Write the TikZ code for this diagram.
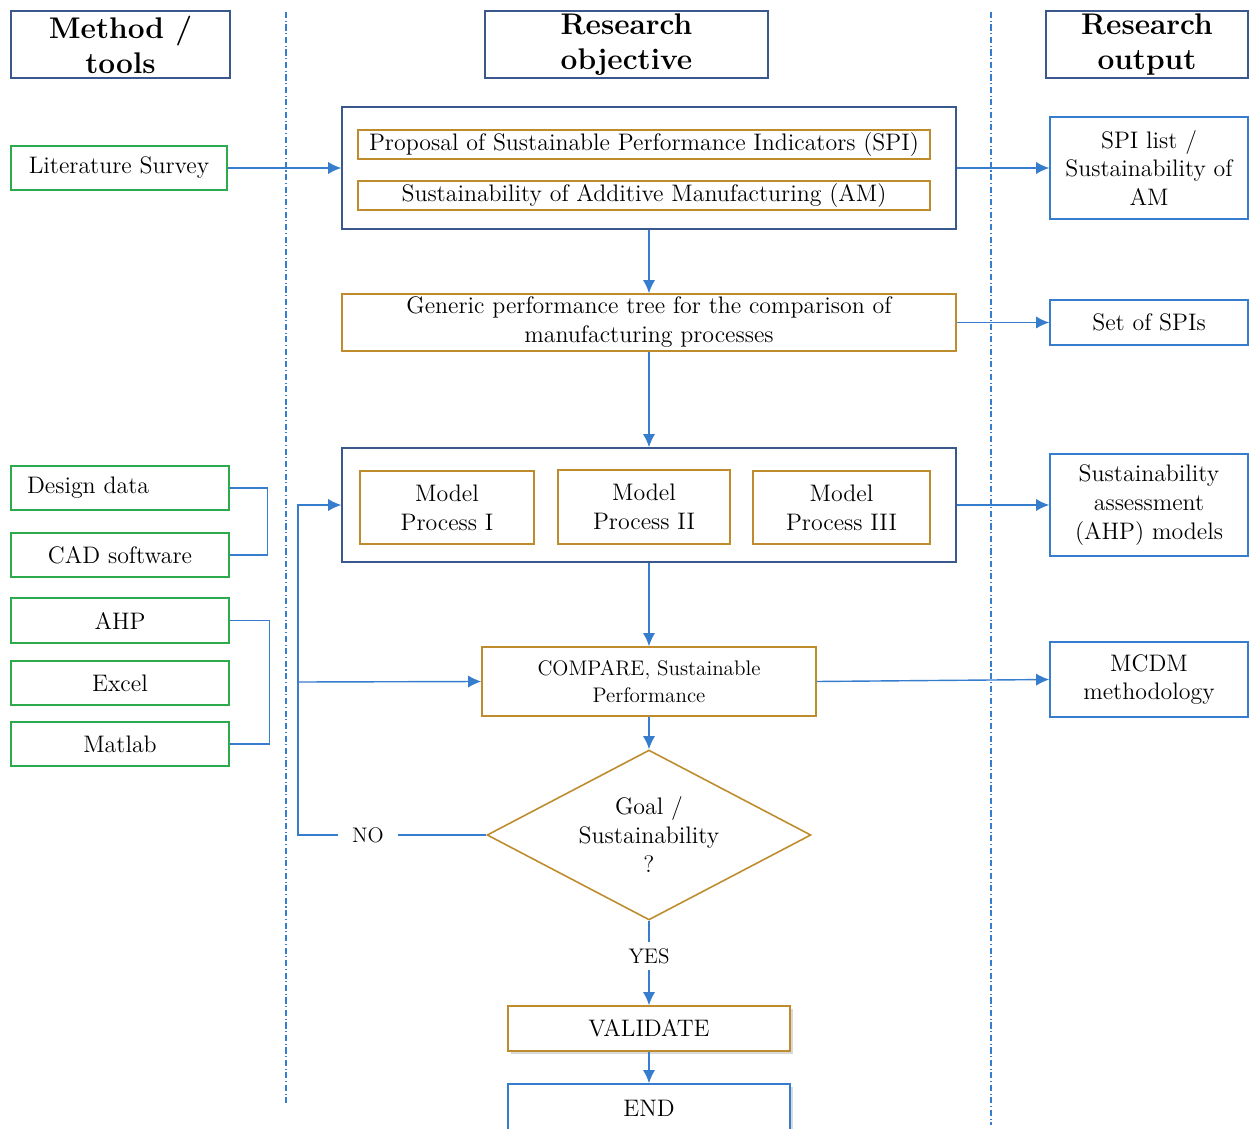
\documentclass[tikz,border=0pt]{standalone}
\usepackage{fontspec}
\usepackage{tikz}
\usetikzlibrary{arrows.meta,shapes,shadows}

\definecolor{hdrblue}{RGB}{58,88,140}
\definecolor{toolgreen}{RGB}{45,170,75}
\definecolor{taskorange}{RGB}{190,140,45}
\definecolor{outblue}{RGB}{55,125,205}

\begin{document}
\begin{tikzpicture}[x=0.02cm,y=-0.02cm,
    headbox/.style={draw=hdrblue,line width=0.9pt,inner sep=0pt,align=center,
      font=\fontsize{17}{20}\selectfont\bfseries,minimum height=1.34cm},
    toolbox/.style={draw=toolgreen,line width=0.9pt,inner sep=0pt,align=center,
      font=\fontsize{13.6}{16.5}\selectfont,minimum width=4.36cm,minimum height=0.88cm},
    framebox/.style={draw=hdrblue,line width=0.9pt,inner sep=0pt},
    taskbox/.style={draw=taskorange,line width=0.9pt,inner sep=0pt,align=center,
      font=\fontsize{13.6}{16.5}\selectfont},
    outbox/.style={draw=outblue,line width=0.9pt,inner sep=0pt,align=center,
      font=\fontsize{13.6}{16.3}\selectfont,minimum width=3.96cm},
    shadowed/.style={fill=white,drop shadow={shadow xshift=1.5pt,shadow yshift=-1.5pt,opacity=0.3}},
    flow/.style={-{Latex[length=7.5pt,width=7pt]},outblue,line width=0.8pt},
    wire/.style={outblue,line width=0.8pt},
    divline/.style={outblue,line width=0.8pt,dash pattern=on 3.5pt off 1.5pt on 0.6pt off 1.5pt},
    answer/.style={font=\fontsize{12}{14}\selectfont,inner xsep=0.28cm}]

      % page
      \useasboundingbox (0,0) rectangle (1249,1129);
      \clip (0,0) rectangle (1249,1129);

      % column dividers
      \draw[divline] (286,12) -- (286,1105);
      \draw[divline] (991,12) -- (991,1125);

      % column headings
      \node[headbox,minimum width=4.38cm] (hmeth) at (120.5,44.5) {Method /\\tools};
      \node[headbox,minimum width=5.66cm] (hobj) at (626.5,44.5) {Research\\objective};
      \node[headbox,minimum width=4.04cm] (hout) at (1147,44.5) {Research\\output};

      % methods and tools
      \node[toolbox,minimum width=4.32cm] (lit) at (119,168) {Literature Survey};
      \node[toolbox,text width=3.72cm,inner xsep=0.32cm,align=left] (design) at (120,488) {Design data};
      \node[toolbox] (cad) at (120,555) {CAD software};
      \node[toolbox,minimum height=0.9cm] (ahp) at (120,620.5) {AHP};
      \node[toolbox] (excel) at (120,683) {Excel};
      \node[toolbox] (matlab) at (120,744) {Matlab};
      \draw[wire] (design.east) -- ++(38,0) |- (cad.east);
      \draw[wire] (ahp.east) -- ++(40,0) |- (matlab.east);

      % research objective
      \node[framebox,minimum width=12.28cm,minimum height=2.44cm] (objbox) at (649,168) {};
      \node[taskbox,minimum width=11.44cm,minimum height=0.58cm] (spi) at (644,144.5) {Proposal of Sustainable Performance Indicators (SPI)};
      \node[taskbox,minimum width=11.44cm,minimum height=0.58cm] (am) at (644,195.5) {Sustainability of Additive Manufacturing (AM)};
      \node[taskbox,minimum width=12.28cm,minimum height=1.14cm] (tree) at (649,322.5) {Generic performance tree for the comparison of\\manufacturing processes};
      \node[framebox,minimum width=12.28cm,minimum height=2.28cm] (modbox) at (649,505) {};
      \node[taskbox,minimum width=3.48cm,minimum height=1.46cm] (mp1) at (447,507.5) {Model\\Process I};
      \node[taskbox,minimum width=3.44cm,minimum height=1.48cm] (mp2) at (644,507) {Model\\Process II};
      \node[taskbox,minimum width=3.54cm,minimum height=1.46cm] (mp3) at (841.5,507.5) {Model\\Process III};
      \node[taskbox,font=\fontsize{12}{15}\selectfont,minimum width=6.68cm,minimum height=1.38cm] (cmp) at (649,681.5) {COMPARE, Sustainable\\Performance};
      \node[taskbox,diamond,aspect=2,minimum width=6.48cm,minimum height=3.4cm] (goal) at (649,835) {Goal /\\Sustainability\\?};
      \node[answer] (no) at (368,835) {NO};
      \node[answer] (yes) at (649,956) {YES};
      \node[taskbox,shadowed,minimum width=5.64cm,minimum height=0.9cm] (valid) at (649,1028.5) {VALIDATE};
      \node[outbox,shadowed,minimum width=5.64cm,minimum height=0.96cm] (endb) at (649,1108) {END};

      % research output
      \node[outbox,minimum height=2.04cm] (spilist) at (1149,168) {SPI list /\\Sustainability of\\AM};
      \node[outbox,minimum height=0.9cm] (setspi) at (1149,322.5) {Set of SPIs};
      \node[outbox,minimum height=2.04cm] (assess) at (1149,505) {Sustainability\\assessment\\(AHP) models};
      \node[outbox,minimum height=1.5cm] (mcdm) at (1149,679.5) {MCDM\\methodology};

      % main flow
      \draw[flow] (lit.east) -- (objbox.west);
      \draw[flow] (objbox.east) -- (spilist.west);
      \draw[flow] (objbox.south) -- (tree.north);
      \draw[flow] (tree.east) -- (setspi.west);
      \draw[flow] (tree.south) -- (modbox.north);
      \draw[flow] (modbox.east) -- (assess.west);
      \draw[flow] (modbox.south) -- (cmp.north);
      \draw[flow] (cmp.east) -- (mcdm.west);
      \draw[flow] (cmp.south) -- (goal.north);
      \draw[wire] (goal.south) -- (yes.north);
      \draw[flow] (yes.south) -- (valid.north);
      \draw[flow] (valid.south) -- (endb.north);

      % feedback loop
      \coordinate (loopb) at (298,835);
      \coordinate (loopm) at (298,682);
      \coordinate (loopt) at (298,505);
      \draw[wire] (goal.west) -- (no.east);
      \draw[flow] (no.west) -- (loopb) -- (loopt) -- (modbox.west);
      \draw[flow] (loopm) -- (cmp.west);

    \end{tikzpicture}
\end{document}
